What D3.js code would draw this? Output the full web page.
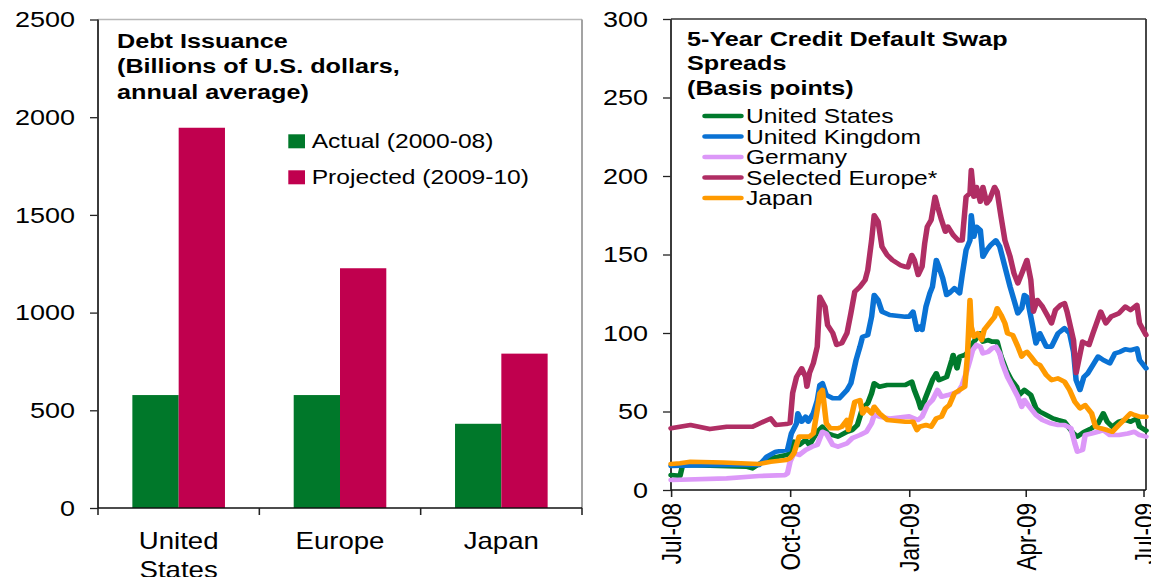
<!DOCTYPE html>
<html>
<head>
<meta charset="utf-8">
<script src="https://cdn.jsdelivr.net/npm/d3@7"></script>
<style>
  html, body { margin: 0; padding: 0; background: #fff; }
  svg { display: block; }
</style>
</head>
<body>
<svg id="chart" width="1151" height="577"></svg>
<script>
// ---- left panel: debt issuance ----
const regions = ["United States", "Europe", "Japan"];
const issuanceActual = [578, 578, 431];
const issuanceProjected = [1946, 1227, 790];
const issuanceSeries = ["Actual (2000-08)", "Projected (2009-10)"];
const issuanceTicks = [0, 500, 1000, 1500, 2000, 2500];

// ---- right panel: 5-year CDS spreads (basis points) ----
const cdsTicks = [0, 50, 100, 150, 200, 250, 300];
const cdsDateTicks = ["2008-07-01", "2008-10-01", "2009-01-01", "2009-04-01", "2009-07-01"];
const cdsNames = ["United States", "United Kingdom", "Germany", "Selected Europe*", "Japan"];

const cdsUS = [
  ["2008-07-01", 9.5], ["2008-07-08", 9], ["2008-07-10", 16], ["2008-08-28", 14.9], ["2008-09-02", 13.8],
  ["2008-09-07", 16.6], ["2008-09-16", 20.2], ["2008-09-28", 22.3], ["2008-10-01", 23.4], ["2008-10-04", 30.8],
  ["2008-10-08", 28.7], ["2008-10-13", 31.8], ["2008-10-16", 28.7], ["2008-10-19", 33], ["2008-10-22", 37],
  ["2008-10-26", 40.3], ["2008-10-30", 36.1], ["2008-11-03", 35], ["2008-11-07", 34], ["2008-11-14", 37.1],
  ["2008-11-18", 38.2], ["2008-11-22", 41.4], ["2008-11-26", 52], ["2008-11-30", 55.2], ["2008-12-03", 61.6],
  ["2008-12-05", 68], ["2008-12-09", 65.8], ["2008-12-15", 66.9], ["2008-12-29", 66.9], ["2009-01-03", 69],
  ["2009-01-05", 63.7], ["2009-01-08", 57.3], ["2009-01-10", 52], ["2009-01-13", 57.3], ["2009-01-17", 65.8],
  ["2009-01-19", 70], ["2009-01-22", 74.3], ["2009-01-24", 70], ["2009-01-30", 72], ["2009-02-03", 82.8],
  ["2009-02-04", 86], ["2009-02-07", 77.5], ["2009-02-09", 85], ["2009-02-13", 86], ["2009-02-17", 89],
  ["2009-02-20", 94.5], ["2009-02-25", 99.8], ["2009-02-27", 94.5], ["2009-03-03", 95.5], ["2009-03-06", 94.5],
  ["2009-03-10", 94.5], ["2009-03-13", 85], ["2009-03-17", 76.4], ["2009-03-21", 70], ["2009-03-25", 65.8],
  ["2009-03-27", 60.5], ["2009-03-31", 63.7], ["2009-04-05", 60.5], ["2009-04-09", 52], ["2009-04-12", 49.9],
  ["2009-04-17", 47.8], ["2009-04-22", 45.6], ["2009-04-26", 44.6], ["2009-05-01", 43.5], ["2009-05-08", 36],
  ["2009-05-11", 34], ["2009-05-16", 37], ["2009-05-22", 39.3], ["2009-05-27", 42.5], ["2009-05-31", 48.8],
  ["2009-06-03", 43.5], ["2009-06-07", 40.3], ["2009-06-12", 43.5], ["2009-06-17", 44.6], ["2009-06-21", 43.5],
  ["2009-06-26", 45.6], ["2009-06-28", 40.3], ["2009-07-03", 37.8]
];

const cdsUK = [
  ["2008-07-01", 15.3], ["2008-07-20", 15.6], ["2008-08-15", 16], ["2008-09-07", 15.9], ["2008-09-13", 21.2],
  ["2008-09-20", 24.4], ["2008-09-29", 25.5], ["2008-10-02", 36], ["2008-10-06", 42.5], ["2008-10-07", 48.8],
  ["2008-10-10", 43.5], ["2008-10-13", 46.7], ["2008-10-15", 43.5], ["2008-10-19", 49], ["2008-10-22", 57],
  ["2008-10-24", 66.9], ["2008-10-26", 68], ["2008-10-29", 60.5], ["2008-11-03", 58.4], ["2008-11-08", 58.4],
  ["2008-11-14", 63.7], ["2008-11-17", 68], ["2008-11-21", 82.8], ["2008-11-24", 91.3], ["2008-11-26", 97.6],
  ["2008-11-30", 98.7], ["2008-12-03", 110.4], ["2008-12-05", 124.2], ["2008-12-08", 121], ["2008-12-11", 113.6],
  ["2008-12-17", 111.5], ["2008-12-29", 110.4], ["2009-01-01", 110.4], ["2009-01-04", 113.6], ["2009-01-07", 102],
  ["2009-01-09", 104], ["2009-01-11", 102], ["2009-01-14", 116.8], ["2009-01-17", 125.3], ["2009-01-19", 129.5],
  ["2009-01-22", 146.5], ["2009-01-24", 142.2], ["2009-01-27", 134.8], ["2009-01-30", 124.2], ["2009-02-01", 125.3],
  ["2009-02-05", 128.5], ["2009-02-09", 125.3], ["2009-02-11", 137], ["2009-02-14", 152.9], ["2009-02-17", 159],
  ["2009-02-18", 175], ["2009-02-20", 161.3], ["2009-02-22", 167.7], ["2009-02-25", 165.6], ["2009-02-27", 148.6],
  ["2009-03-02", 152.9], ["2009-03-05", 156], ["2009-03-09", 159], ["2009-03-12", 155], ["2009-03-16", 142.2],
  ["2009-03-20", 129.5], ["2009-03-23", 121], ["2009-03-26", 112.5], ["2009-03-29", 115.7], ["2009-03-31", 124.2],
  ["2009-04-02", 123], ["2009-04-05", 110.4], ["2009-04-09", 93.4], ["2009-04-12", 99.8], ["2009-04-17", 91.3],
  ["2009-04-21", 91.3], ["2009-04-26", 99.8], ["2009-05-01", 103], ["2009-05-05", 99.8], ["2009-05-08", 88],
  ["2009-05-10", 70], ["2009-05-13", 63.7], ["2009-05-16", 72], ["2009-05-19", 74.3], ["2009-05-23", 79.6],
  ["2009-05-27", 85], ["2009-05-31", 82.8], ["2009-06-05", 80.7], ["2009-06-09", 87], ["2009-06-13", 88],
  ["2009-06-17", 89.6], ["2009-06-21", 89], ["2009-06-26", 90.2], ["2009-06-28", 82.8], ["2009-07-03", 77.5]
];

const cdsGermany = [
  ["2008-07-01", 6.4], ["2008-08-13", 7.4], ["2008-09-07", 8.9], ["2008-09-27", 9.5], ["2008-09-29", 10.6],
  ["2008-10-01", 18], ["2008-10-04", 23.4], ["2008-10-08", 22.3], ["2008-10-13", 25.5], ["2008-10-18", 27.6],
  ["2008-10-22", 28.7], ["2008-10-26", 37.1], ["2008-10-29", 36], ["2008-11-03", 28.7], ["2008-11-07", 27.6],
  ["2008-11-14", 29.7], ["2008-11-18", 33], ["2008-11-24", 35], ["2008-11-29", 37.1], ["2008-12-03", 42.5],
  ["2008-12-05", 47.8], ["2008-12-09", 46.7], ["2008-12-17", 45.6], ["2009-01-01", 46.9], ["2009-01-08", 44.6],
  ["2009-01-11", 46.7], ["2009-01-15", 54], ["2009-01-19", 57.3], ["2009-01-23", 63.7], ["2009-01-26", 59.4],
  ["2009-01-31", 60.5], ["2009-02-04", 61.6], ["2009-02-08", 62.6], ["2009-02-11", 66.9], ["2009-02-14", 74.3],
  ["2009-02-17", 82.8], ["2009-02-19", 89], ["2009-02-22", 92.4], ["2009-02-25", 91.3], ["2009-02-27", 87],
  ["2009-03-03", 88], ["2009-03-06", 90.2], ["2009-03-09", 91.3], ["2009-03-12", 87], ["2009-03-14", 80.7],
  ["2009-03-18", 72], ["2009-03-22", 65.8], ["2009-03-26", 59.4], ["2009-03-29", 53], ["2009-03-31", 57.3],
  ["2009-04-03", 54], ["2009-04-09", 47.8], ["2009-04-14", 44.6], ["2009-04-20", 42.5], ["2009-04-26", 41.4],
  ["2009-05-01", 41.4], ["2009-05-06", 39.3], ["2009-05-09", 29.7], ["2009-05-11", 24.4], ["2009-05-15", 25.5],
  ["2009-05-17", 35], ["2009-05-22", 36], ["2009-05-27", 37.1], ["2009-05-31", 38.2], ["2009-06-05", 35],
  ["2009-06-12", 35], ["2009-06-19", 36], ["2009-06-24", 37.1], ["2009-06-28", 35], ["2009-07-03", 34]
];

const cdsSelectedEurope = [
  ["2008-07-01", 39.3], ["2008-07-16", 41.4], ["2008-07-31", 38.8], ["2008-08-13", 40.3], ["2008-09-02", 40.3],
  ["2008-09-16", 45.6], ["2008-09-20", 41.4], ["2008-09-28", 42], ["2008-10-01", 42.7], ["2008-10-03", 61.8],
  ["2008-10-06", 72], ["2008-10-10", 77.5], ["2008-10-13", 72], ["2008-10-14", 65.8], ["2008-10-16", 74.5],
  ["2008-10-19", 80.8], ["2008-10-22", 91.3], ["2008-10-24", 123], ["2008-10-28", 116.8], ["2008-10-30", 105],
  ["2008-11-03", 100], ["2008-11-06", 92.4], ["2008-11-10", 93.6], ["2008-11-14", 100], ["2008-11-17", 112.7],
  ["2008-11-20", 126.3], ["2008-11-24", 129.5], ["2008-11-28", 133.8], ["2008-11-30", 140], ["2008-12-03", 159],
  ["2008-12-05", 175], ["2008-12-08", 171], ["2008-12-11", 155], ["2008-12-15", 149.7], ["2008-12-19", 146.5],
  ["2008-12-25", 143.3], ["2008-12-29", 142.2], ["2008-12-31", 141.8], ["2009-01-03", 149.7], ["2009-01-05", 146.5],
  ["2009-01-08", 137], ["2009-01-11", 142.2], ["2009-01-13", 157], ["2009-01-15", 167.7], ["2009-01-18", 172],
  ["2009-01-21", 186.8], ["2009-01-23", 180.4], ["2009-01-26", 172], ["2009-01-29", 164.5], ["2009-01-31", 167.7],
  ["2009-02-04", 162.4], ["2009-02-08", 159], ["2009-02-11", 159], ["2009-02-14", 186.8], ["2009-02-17", 189],
  ["2009-02-18", 203.8], ["2009-02-20", 186.8], ["2009-02-22", 193], ["2009-02-25", 183.6], ["2009-02-27", 193],
  ["2009-03-02", 182.6], ["2009-03-04", 184.7], ["2009-03-08", 193], ["2009-03-10", 190], ["2009-03-13", 174],
  ["2009-03-16", 159], ["2009-03-20", 148.6], ["2009-03-23", 138], ["2009-03-26", 131.6], ["2009-03-30", 140],
  ["2009-04-02", 146.5], ["2009-04-05", 133.8], ["2009-04-07", 113.6], ["2009-04-10", 121], ["2009-04-14", 116.8],
  ["2009-04-19", 109.4], ["2009-04-21", 106.2], ["2009-04-24", 114.6], ["2009-04-28", 117.8], ["2009-05-01", 119],
  ["2009-05-03", 113.6], ["2009-05-08", 95.5], ["2009-05-10", 74.5], ["2009-05-15", 94.5], ["2009-05-20", 92.4],
  ["2009-05-23", 99.8], ["2009-05-29", 113.6], ["2009-06-02", 106.2], ["2009-06-06", 110.4], ["2009-06-12", 112.5],
  ["2009-06-17", 116.8], ["2009-06-21", 114.6], ["2009-06-26", 117.8], ["2009-06-28", 106.2], ["2009-07-03", 98.7]
];

const cdsJapan = [
  ["2008-07-01", 16.6], ["2008-07-08", 17], ["2008-07-16", 18], ["2008-08-10", 17.5], ["2008-09-07", 16.6],
  ["2008-09-16", 18], ["2008-09-28", 19.1], ["2008-10-01", 20.2], ["2008-10-04", 23.4], ["2008-10-08", 34],
  ["2008-10-16", 34], ["2008-10-19", 36.1], ["2008-10-22", 51], ["2008-10-24", 61.6], ["2008-10-26", 63.7],
  ["2008-10-29", 42.5], ["2008-11-01", 39.3], ["2008-11-07", 39.3], ["2008-11-10", 40.3], ["2008-11-14", 44.6],
  ["2008-11-15", 38.2], ["2008-11-20", 56.2], ["2008-11-24", 57.3], ["2008-11-26", 48.8], ["2008-11-29", 52],
  ["2008-12-03", 48.8], ["2008-12-05", 53], ["2008-12-09", 48.8], ["2008-12-15", 44.6], ["2008-12-29", 43.5],
  ["2009-01-04", 43.5], ["2009-01-07", 38.2], ["2009-01-09", 40.3], ["2009-01-14", 41.4], ["2009-01-18", 40.3],
  ["2009-01-22", 45.6], ["2009-01-26", 46.7], ["2009-01-29", 52], ["2009-02-01", 54], ["2009-02-05", 61.6],
  ["2009-02-09", 63.7], ["2009-02-13", 65.8], ["2009-02-15", 85], ["2009-02-17", 121], ["2009-02-18", 104],
  ["2009-02-20", 97.6], ["2009-02-23", 99.8], ["2009-02-26", 95.5], ["2009-02-28", 102], ["2009-03-04", 106.2],
  ["2009-03-08", 110.4], ["2009-03-10", 115.7], ["2009-03-13", 111.5], ["2009-03-16", 106.2], ["2009-03-18", 99.8],
  ["2009-03-22", 98.7], ["2009-03-26", 91.3], ["2009-03-29", 85], ["2009-03-31", 87], ["2009-04-02", 88],
  ["2009-04-05", 85], ["2009-04-09", 80.7], ["2009-04-12", 79.6], ["2009-04-17", 73.2], ["2009-04-21", 70],
  ["2009-04-26", 71.1], ["2009-05-01", 69], ["2009-05-05", 63.7], ["2009-05-09", 56.2], ["2009-05-13", 52],
  ["2009-05-17", 54], ["2009-05-22", 48.8], ["2009-05-25", 40.3], ["2009-05-29", 39.3], ["2009-06-03", 38.2],
  ["2009-06-07", 37.1], ["2009-06-12", 41.4], ["2009-06-16", 44.6], ["2009-06-21", 48.8], ["2009-06-24", 47.8],
  ["2009-06-28", 46.7], ["2009-07-03", 46.7]
];

const barColors = ["#00782a", "#c0004e"];
const lineColors = ["#007a2c", "#0a72d4", "#dc98f8", "#b02e64", "#ff9a00"];
const FONT = "'Liberation Sans', Arial, sans-serif";

// the source picture is stretched sideways, so draw in a narrower box and stretch it
const S = 1.2;
const px = (x) => x / S;

const svg = d3
  .select("#chart")
  .attr("viewBox", `0 0 ${1151 / S} 577`)
  .attr("preserveAspectRatio", "none");

function styleAxis(g, size) {
  g.attr("font-family", FONT).attr("font-size", size);
  g.selectAll("text").attr("fill", "#000");
  g.selectAll("line").attr("stroke", "#222").attr("stroke-width", 1.3);
  g.select(".domain").remove();
}

// ================= left panel =================
const L = { left: 98, right: 582, top: 19.5, bottom: 508 };
const x0 = d3
  .scaleBand()
  .domain(regions)
  .range([px(L.left), px(L.right)])
  .paddingInner(0.426)
  .paddingOuter(0.213);
const x1 = d3.scaleBand().domain(issuanceSeries).range([0, x0.bandwidth()]);
const yL = d3.scaleLinear().domain([0, 2500]).range([L.bottom, L.top]);

const gL = svg.append("g");

// frame (top & right light grey)
gL.append("line")
  .attr("x1", px(L.left)).attr("x2", px(L.right))
  .attr("y1", L.top).attr("y2", L.top)
  .attr("stroke", "#b8b8b8").attr("stroke-width", 1.5);
gL.append("line")
  .attr("x1", px(L.right)).attr("x2", px(L.right))
  .attr("y1", L.top).attr("y2", L.bottom)
  .attr("stroke", "#999").attr("stroke-width", 1.5);

const barData = regions.flatMap((r, i) => [
  { region: r, s: 0, v: issuanceActual[i] },
  { region: r, s: 1, v: issuanceProjected[i] },
]);
gL.selectAll("rect.bar")
  .data(barData)
  .enter()
  .append("rect")
  .attr("class", "bar")
  .attr("x", (d) => x0(d.region) + x1(issuanceSeries[d.s]))
  .attr("width", x1.bandwidth())
  .attr("y", (d) => yL(d.v))
  .attr("height", (d) => yL(0) - yL(d.v))
  .attr("fill", (d) => barColors[d.s]);

// y axis
gL.append("g")
  .attr("transform", `translate(${px(L.left)},0)`)
  .call(d3.axisLeft(yL).tickValues(issuanceTicks).tickSize(px(8)).tickPadding(px(15)).tickFormat(d3.format("d")))
  .call((g) => styleAxis(g, 22.5));
gL.append("line")
  .attr("x1", px(L.left)).attr("x2", px(L.left))
  .attr("y1", L.top).attr("y2", L.bottom)
  .attr("stroke", "#333").attr("stroke-width", 1.6);

// x axis
gL.append("line")
  .attr("x1", px(L.left)).attr("x2", px(L.right))
  .attr("y1", L.bottom).attr("y2", L.bottom)
  .attr("stroke", "#111").attr("stroke-width", 1.6);
gL.selectAll("line.xtick")
  .data(d3.range(regions.length + 1))
  .enter()
  .append("line")
  .attr("class", "xtick")
  .attr("x1", (k) => px(L.left) + k * x0.step())
  .attr("x2", (k) => px(L.left) + k * x0.step())
  .attr("y1", L.bottom)
  .attr("y2", L.bottom + 7)
  .attr("stroke", "#222").attr("stroke-width", 1.3);

const catText = gL.selectAll("text.cat")
  .data(regions)
  .enter()
  .append("text")
  .attr("class", "cat")
  .attr("font-family", FONT)
  .attr("font-size", 23)
  .attr("text-anchor", "middle")
  .attr("x", (d) => x0(d) + x0.bandwidth() / 2)
  .attr("y", 549);
catText.each(function (d) {
  const words = d === "United States" ? ["United", "States"] : [d];
  const t = d3.select(this);
  words.forEach((w, i) => {
    t.append("tspan")
      .attr("x", x0(d) + x0.bandwidth() / 2)
      .attr("dy", i === 0 ? 0 : 29)
      .text(w);
  });
});

// title
const leftTitle = ["Debt Issuance", "(Billions of U.S. dollars,", "annual average)"];
gL.selectAll("text.title")
  .data(leftTitle)
  .enter()
  .append("text")
  .attr("class", "title")
  .attr("font-family", FONT)
  .attr("font-weight", "bold")
  .attr("font-size", 21)
  .attr("x", px(117))
  .attr("y", (d, i) => 48 + i * 25.5)
  .text((d) => d);

// legend
const legL = gL.selectAll("g.leg")
  .data(issuanceSeries)
  .enter()
  .append("g")
  .attr("class", "leg")
  .attr("transform", (d, i) => `translate(0,${134.3 + i * 36})`);
legL.append("rect")
  .attr("x", px(288.3)).attr("y", 0)
  .attr("width", px(16.7)).attr("height", 14)
  .attr("fill", (d, i) => barColors[i]);
legL.append("text")
  .attr("font-family", FONT)
  .attr("font-size", 20.5)
  .attr("x", px(311.7))
  .attr("y", 14)
  .text((d) => d);

// ================= right panel =================
const R = { left: 671, right: 1146, top: 19, bottom: 490 };
const parse = d3.timeParse("%Y-%m-%d");
const xR = d3
  .scaleTime()
  .domain([parse("2008-07-01"), parse("2009-07-03")])
  .range([px(R.left), px(R.right)]);
const yR = d3.scaleLinear().domain([0, 300]).range([R.bottom, R.top]);

const gR = svg.append("g");

gR.append("line")
  .attr("x1", px(R.left)).attr("x2", px(R.right))
  .attr("y1", R.top).attr("y2", R.top)
  .attr("stroke", "#333").attr("stroke-width", 1.5);
gR.append("line")
  .attr("x1", px(R.right)).attr("x2", px(R.right))
  .attr("y1", R.top).attr("y2", R.bottom)
  .attr("stroke", "#333").attr("stroke-width", 1.5);

gR.append("g")
  .attr("transform", `translate(${px(R.left)},0)`)
  .call(d3.axisLeft(yR).tickValues(cdsTicks).tickSize(px(8)).tickPadding(px(15)))
  .call((g) => styleAxis(g, 22.5));
gR.append("line")
  .attr("x1", px(R.left)).attr("x2", px(R.left))
  .attr("y1", R.top).attr("y2", R.bottom)
  .attr("stroke", "#333").attr("stroke-width", 1.6);

const xAxisR = gR.append("g")
  .attr("transform", `translate(0,${R.bottom})`)
  .call(
    d3.axisBottom(xR)
      .tickValues(cdsDateTicks.map(parse))
      .tickSize(7)
      .tickFormat(d3.timeFormat("%b-%y"))
  )
  .call((g) => styleAxis(g, 22.5));
xAxisR.selectAll("text")
  .attr("transform", "rotate(-90)")
  .attr("text-anchor", "end")
  .attr("x", -13)
  .attr("y", 0)
  .attr("dy", "0.36em");
gR.append("line")
  .attr("x1", px(R.left)).attr("x2", px(R.right))
  .attr("y1", R.bottom).attr("y2", R.bottom)
  .attr("stroke", "#111").attr("stroke-width", 1.6);

const cdsAll = [cdsUS, cdsUK, cdsGermany, cdsSelectedEurope, cdsJapan];
const line = d3
  .line()
  .x((d) => xR(parse(d[0])))
  .y((d) => yR(d[1]));

gR.selectAll("path.cds")
  .data(cdsAll)
  .enter()
  .append("path")
  .attr("class", "cds")
  .attr("d", line)
  .attr("fill", "none")
  .attr("stroke", (d, i) => lineColors[i])
  .attr("stroke-width", 4.6)
  .attr("stroke-linejoin", "round")
  .attr("stroke-linecap", "round");

const rightTitle = ["5-Year Credit Default Swap", "Spreads", "(Basis points)"];
gR.selectAll("text.title")
  .data(rightTitle)
  .enter()
  .append("text")
  .attr("class", "title")
  .attr("font-family", FONT)
  .attr("font-weight", "bold")
  .attr("font-size", 21)
  .attr("x", px(687))
  .attr("y", (d, i) => 46 + i * 24.5)
  .text((d) => d);

const legR = gR.selectAll("g.leg")
  .data(cdsNames)
  .enter()
  .append("g")
  .attr("class", "leg")
  .attr("transform", (d, i) => `translate(0,${116 + i * 20.5})`);
legR.append("line")
  .attr("x1", px(705)).attr("x2", px(741))
  .attr("y1", 0).attr("y2", 0)
  .attr("stroke", (d, i) => lineColors[i])
  .attr("stroke-width", 4.5)
  .attr("stroke-linecap", "round");
legR.append("text")
  .attr("font-family", FONT)
  .attr("font-size", 20.5)
  .attr("x", px(746))
  .attr("y", 0)
  .attr("dy", "0.36em")
  .text((d) => d);
</script>
</body>
</html>
